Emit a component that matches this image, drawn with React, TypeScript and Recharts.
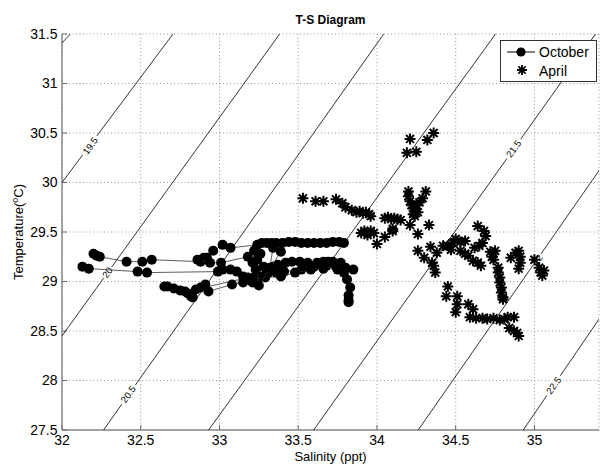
import { ScatterChart, Scatter, XAxis, YAxis, CartesianGrid, Legend } from "recharts";

type Pt = [number, number];

const salinityTicks = [32, 32.5, 33, 33.5, 34, 34.5, 35];
const temperatureTicks = [27.5, 28, 28.5, 29, 29.5, 30, 30.5, 31, 31.5];

// sigma-t isopycnals, read as end points [salinity, temperature]
const contourLines: Pt[][] = [
  [[32, 31.41], [32.053, 31.5]],
  [[32, 30.0], [32.705, 31.5]],
  [[32, 28.45], [33.382, 31.5]],
  [[32.264, 27.5], [34.043, 31.5]],
  [[32.931, 27.5], [34.753, 31.5]],
  [[33.598, 27.5], [35.388, 31.5]],
  [[34.262, 27.5], [35.41, 30.12]],
  [[34.929, 27.5], [35.41, 28.62]],
];

const contourLabels = [
  { s: 32.18, t: 30.37, level: "19.5" },
  { s: 32.288, t: 29.09, level: "20" },
  { s: 32.421, t: 27.86, level: "20.5" },
  { s: 34.868, t: 30.34, level: "21.5" },
  { s: 35.02, t: 29.22, level: "22" },
  { s: 35.122, t: 27.95, level: "22.5" },
];

// October cruise, one array per connected leg
const octoberNorth: Pt[] = [
  [32.2, 29.28], [32.22, 29.26], [32.24, 29.25], [32.41, 29.2], [32.51, 29.2], [32.57, 29.22],
  [32.88, 29.2], [32.9, 29.24], [32.92, 29.24], [32.96, 29.31], [33.02, 29.37], [33.07, 29.34],
  [33.24, 29.37], [33.27, 29.39], [33.3, 29.39], [33.33, 29.39], [33.36, 29.39], [33.4, 29.39],
  [33.44, 29.4], [33.48, 29.4], [33.52, 29.39], [33.56, 29.39], [33.6, 29.39], [33.64, 29.39],
  [33.68, 29.39], [33.72, 29.4], [33.76, 29.4], [33.79, 29.39],
];
const octoberMiddle: Pt[] = [
  [32.13, 29.15], [32.17, 29.13], [32.48, 29.1], [32.54, 29.09], [32.99, 29.1], [33.02, 29.12],
  [33.07, 29.12], [33.11, 29.1], [33.15, 29.05], [33.21, 28.99], [33.26, 29.05], [33.3, 29.12],
  [33.34, 29.15], [33.37, 29.17], [33.42, 29.19], [33.46, 29.2], [33.51, 29.2], [33.56, 29.19],
  [33.62, 29.19], [33.66, 29.2], [33.69, 29.2], [33.72, 29.2], [33.77, 29.19], [33.75, 29.12],
  [33.79, 29.09], [33.81, 29.02], [33.83, 28.94], [33.82, 28.86], [33.82, 28.81], [33.82, 28.79],
];
const octoberSouth: Pt[] = [
  [32.65, 28.95], [32.67, 28.95], [32.71, 28.93], [32.75, 28.91], [32.78, 28.9], [32.8, 28.88],
  [32.82, 28.85], [32.83, 28.84], [32.85, 28.92], [33.18, 29.04], [33.23, 29.06], [33.31, 29.09],
  [33.36, 29.09], [33.41, 29.1], [33.52, 29.12], [33.6, 29.15], [33.68, 29.16], [33.74, 29.16],
  [33.8, 29.14], [33.85, 29.12],
];
const octoberSouth2: Pt[] = [
  [32.88, 28.94], [32.91, 28.97], [32.93, 28.9], [33.08, 28.97], [33.15, 28.99], [33.21, 29.02],
  [33.29, 29.04], [33.39, 29.05], [33.48, 29.09], [33.58, 29.12], [33.66, 29.13], [33.74, 29.15],
];
const octoberCluster: Pt[] = [
  [32.86, 29.22], [32.94, 29.19], [33.01, 29.19], [33.18, 29.25], [33.21, 29.19], [33.24, 29.22],
  [33.26, 29.28], [33.23, 29.12], [33.28, 29.15], [33.32, 29.14], [33.34, 29.34], [33.39, 29.3],
  [33.25, 28.96], [33.22, 29.31],
];

// April cruise (no connecting line)
const aprilWest: Pt[] = [
  [33.53, 29.84], [33.61, 29.81], [33.66, 29.81], [33.74, 29.83], [33.78, 29.79], [33.8, 29.75],
  [33.84, 29.72], [33.87, 29.7], [33.89, 29.71], [33.91, 29.69], [33.93, 29.7], [33.95, 29.68],
  [33.96, 29.66], [34.05, 29.64], [34.07, 29.65], [34.09, 29.63], [34.11, 29.64], [34.13, 29.63],
  [34.15, 29.62], [33.9, 29.49], [33.92, 29.51], [33.94, 29.47], [33.96, 29.51], [33.98, 29.49],
  [34.0, 29.38], [34.05, 29.45], [34.1, 29.51],
];
const aprilNorth: Pt[] = [
  [34.21, 30.44], [34.32, 30.43], [34.36, 30.5], [34.19, 30.3], [34.25, 30.31],
];
const aprilCentral: Pt[] = [
  [34.2, 29.91], [34.31, 29.91], [34.2, 29.86], [34.21, 29.81], [34.22, 29.77], [34.23, 29.74],
  [34.24, 29.71], [34.25, 29.77], [34.27, 29.8], [34.29, 29.84], [34.23, 29.68], [34.24, 29.66],
  [34.26, 29.7], [34.21, 29.57], [34.33, 29.57], [34.1, 29.53], [34.26, 29.48],
];
const aprilBand: Pt[] = [
  [34.26, 29.31], [34.3, 29.24], [34.35, 29.19], [34.37, 29.09], [34.36, 29.16], [34.34, 29.35],
  [34.38, 29.29], [34.42, 29.36], [34.45, 29.36], [34.48, 29.39], [34.5, 29.43], [34.53, 29.4],
  [34.56, 29.41], [34.47, 29.32], [34.53, 29.31], [34.56, 29.28], [34.58, 29.26], [34.61, 29.21],
  [34.64, 29.19], [34.66, 29.16], [34.62, 29.34], [34.65, 29.36], [34.67, 29.39], [34.64, 29.56],
  [34.68, 29.51], [34.69, 29.46],
];
const aprilEast: Pt[] = [
  [34.72, 29.3], [34.74, 29.28], [34.75, 29.31], [34.73, 29.25], [34.74, 29.22], [34.77, 29.14],
  [34.77, 29.09], [34.78, 29.04], [34.78, 28.99], [34.79, 28.94], [34.79, 28.89], [34.8, 28.84],
  [34.8, 28.82], [34.85, 29.24], [34.88, 29.29], [34.9, 29.31], [34.91, 29.25], [34.91, 29.19],
  [34.9, 29.13], [35.0, 29.22], [35.03, 29.14], [35.04, 29.09], [35.05, 29.06], [35.06, 29.11],
];
const aprilSouth: Pt[] = [
  [34.45, 28.95], [34.44, 28.85], [34.51, 28.85], [34.51, 28.77], [34.5, 28.69], [34.58, 28.77],
  [34.61, 28.72], [34.59, 28.64], [34.63, 28.63], [34.67, 28.63], [34.7, 28.62], [34.74, 28.63],
  [34.78, 28.61], [34.81, 28.62], [34.83, 28.64], [34.87, 28.64], [34.84, 28.53], [34.87, 28.5],
  [34.89, 28.48], [34.9, 28.45],
];

const toRows = (arr: Pt[]) => arr.map(([s, t]) => ({ s, t }));

const octoberLegs = [octoberNorth, octoberMiddle, octoberSouth, octoberSouth2, octoberCluster];
const aprilGroups = [aprilWest, aprilNorth, aprilCentral, aprilBand, aprilEast, aprilSouth];

const FONT = "'Liberation Sans', Arial, Helvetica, sans-serif";

const NoMark = () => <g />;

const DotMark = (p: any) => <circle cx={p.cx} cy={p.cy} r={5} fill="#000" />;

const starPath = (cx: number, cy: number, r: number) => {
  const d = r * 0.72;
  return `M${cx - r},${cy}H${cx + r}M${cx},${cy - r}V${cy + r}M${cx - d},${cy - d}L${cx + d},${cy + d}M${cx - d},${cy + d}L${cx + d},${cy - d}`;
};

const StarMark = (p: any) => (
  <path d={starPath(p.cx, p.cy, 5.5)} stroke="#000" strokeWidth={2} fill="none" />
);

const LevelMark = (p: any) => {
  const text: string = p.payload?.level ?? p.level ?? "";
  const w = text.length * 5.2 + 3;
  return (
    <g transform={`translate(${p.cx},${p.cy}) rotate(-54)`}>
      <rect x={-w / 2} y={-4} width={w} height={8} fill="#fff" />
      <text textAnchor="middle" dy={3.3} fontSize={9.5} fill="#000" fontFamily={FONT}>
        {text}
      </text>
    </g>
  );
};

const LegendBox = () => (
  <svg width={97} height={42} style={{ display: "block" }}>
    <rect x={0.5} y={0.5} width={96} height={41} fill="#fff" stroke="#333" />
    <line x1={7} x2={35} y1={12} y2={12} stroke="#000" />
    <circle cx={21} cy={12} r={4.6} fill="#000" />
    <text x={39} y={17} fontSize={14} fontFamily={FONT} fill="#000">October</text>
    <path d={starPath(22, 30, 5)} stroke="#000" strokeWidth={1.8} fill="none" />
    <text x={39} y={35.5} fontSize={14} fontFamily={FONT} fill="#000">April</text>
  </svg>
);

const TempLabel = (props: any) => {
  const vb = props.viewBox || { x: 0, y: 34, height: 396 };
  const cy = vb.y + vb.height / 2;
  return (
    <text
      transform={`translate(23,${cy}) rotate(-90)`}
      textAnchor="middle"
      fontSize={13}
      fontFamily={FONT}
      fill="#000"
    >
      Temperature(
      <tspan dy={-5} fontSize={9}>o</tspan>
      <tspan dy={5}>C)</tspan>
    </text>
  );
};

const axisStroke = { stroke: "#888", strokeWidth: 1.5 };
const tickStyle = { fill: "#000", fontSize: 14, fontFamily: FONT };

export default function App() {
  return (
    <div style={{ position: "absolute", left: 0, top: 0, width: 600, height: 464, background: "#fff" }}>
      <div
        style={{
          position: "absolute",
          left: 230,
          top: 13,
          width: 201,
          textAlign: "center",
          fontFamily: FONT,
          fontSize: 12,
          fontWeight: "bold",
          lineHeight: "14px",
          color: "#000",
          zIndex: 2,
        }}
      >
        T-S Diagram
      </div>
      <ScatterChart
        width={600}
        height={464}
        margin={{ top: 34, right: 1, bottom: 0, left: 0 }}
        style={{ fontFamily: FONT }}
      >
        <CartesianGrid stroke="#999" strokeDasharray="1 2.5" />
        <XAxis
          dataKey="s"
          type="number"
          domain={[32, 35.41]}
          allowDataOverflow
          ticks={salinityTicks}
          interval={0}
          height={34}
          tickSize={-5}
          tickMargin={10.5}
          axisLine={axisStroke}
          tickLine={{ stroke: "#666" }}
          tick={tickStyle}
          label={{ value: "Salinity (ppt)", position: "insideBottom", offset: 3, fontSize: 13, fill: "#000", fontFamily: FONT }}
        />
        <XAxis
          xAxisId="top"
          dataKey="s"
          type="number"
          orientation="top"
          mirror
          height={0}
          domain={[32, 35.41]}
          allowDataOverflow
          ticks={salinityTicks}
          interval={0}
          tickSize={5}
          axisLine={axisStroke}
          tickLine={{ stroke: "#666" }}
          tick={() => <g />}
        />
        <YAxis
          dataKey="t"
          type="number"
          domain={[27.5, 31.5]}
          allowDataOverflow
          ticks={temperatureTicks}
          interval={0}
          width={62}
          tickSize={-5}
          tickMargin={9.5}
          axisLine={axisStroke}
          tickLine={{ stroke: "#666" }}
          tick={tickStyle}
          label={<TempLabel />}
        />
        <YAxis
          yAxisId="right"
          dataKey="t"
          type="number"
          orientation="right"
          mirror
          width={0}
          domain={[27.5, 31.5]}
          allowDataOverflow
          ticks={temperatureTicks}
          interval={0}
          tickSize={6}
          axisLine={false}
          tickLine={{ stroke: "#666" }}
          tick={() => <g />}
        />
        <Legend
          layout="horizontal"
          verticalAlign="middle"
          align="center"
          content={LegendBox}
          wrapperStyle={{ top: 40, left: 500, width: 97, height: 42 }}
        />
        {contourLines.map((seg, i) => (
          <Scatter
            key={`c${i}`}
            data={toRows(seg)}
            line={{ stroke: "#000", strokeWidth: 0.8 }}
            shape={NoMark}
            legendType="none"
            isAnimationActive={false}
          />
        ))}
        <Scatter
          data={contourLabels}
          shape={LevelMark}
          legendType="none"
          isAnimationActive={false}
        />
        {octoberLegs.map((leg, i) => (
          <Scatter
            key={`o${i}`}
            name="October"
            data={toRows(leg)}
            line={{ stroke: "#333", strokeWidth: 0.8 }}
            shape={DotMark}
            isAnimationActive={false}
          />
        ))}
        {aprilGroups.map((g, i) => (
          <Scatter
            key={`a${i}`}
            name="April"
            data={toRows(g)}
            shape={StarMark}
            isAnimationActive={false}
          />
        ))}
      </ScatterChart>
    </div>
  );
}
